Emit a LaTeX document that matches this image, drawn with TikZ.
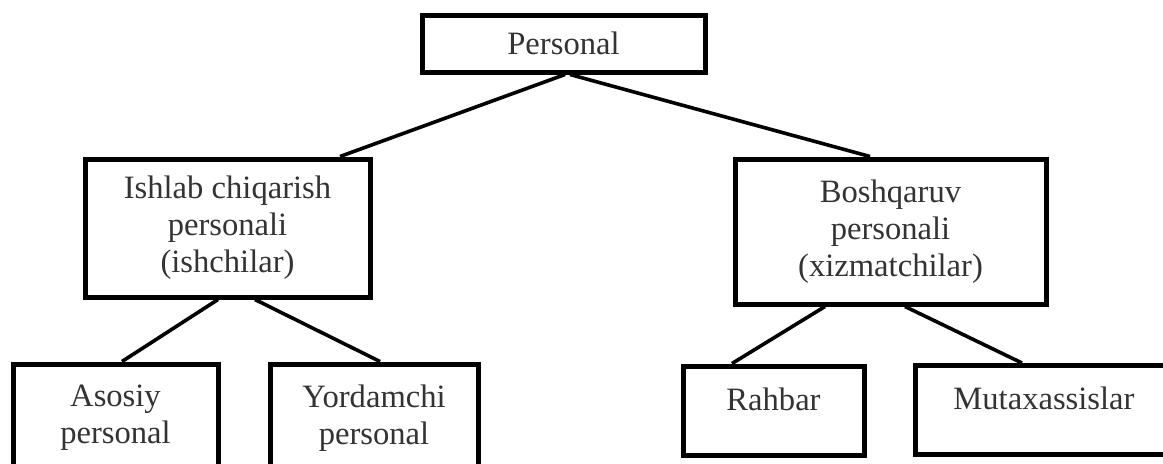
\documentclass[tikz,border=0pt]{standalone}
\usepackage{fontspec}
\setmainfont{Liberation Serif}
\usepackage{tikz}

\begin{document}
\begin{tikzpicture}[x=0.5pt,y=-0.5pt]
		\useasboundingbox (0,0) rectangle (1163,463);
		\tikzset{mybox/.style={draw=black,line width=2.5pt,align=center,text=black!80,font=\fontsize{16.3}{18.5}\selectfont}} %boxes
		\tikzset{myline/.style={black,line width=1.8pt}}
		\node[mybox,minimum width=141.5pt,minimum height=28.5pt] (top) at (563.5,43.5) {Personal}; %level 1
		\node[mybox,minimum width=142.5pt,minimum height=69pt] (ishlab) at (227.5,228) {Ishlab chiqarish\\personali\\(ishchilar)}; %level 2
		\node[mybox,minimum width=155.5pt,minimum height=72.5pt] (boshq) at (890.5,231.5) {Boshqaruv\\personali\\(xizmatchilar)};
		\node[mybox,minimum width=102.5pt,minimum height=54pt] (asosiy) at (115.5,418) {Asosiy\\personal}; %level 3
		\node[mybox,minimum width=104pt,minimum height=54pt] (yordam) at (374,418) {Yordamchi\\personal};
		\node[mybox,minimum width=90.5pt,text height=22pt,text depth=22.5pt,inner ysep=0pt] (rahbar) at (773.5,410.5) {Rahbar};
		\node[mybox,minimum width=129pt,text height=22pt,text depth=22.5pt,inner ysep=0pt] (mutax) at (1044,410) {Mutaxassislar};
		\draw[myline] ([xshift=0.75pt]top.south) -- ([xshift=56.25pt]ishlab.north); %connectors
		\draw[myline] ([xshift=3.25pt]top.south) -- ([xshift=-10.25pt]boshq.north);
		\draw[myline] ([xshift=-4.75pt]ishlab.south) -- ([xshift=3.25pt]asosiy.north);
		\draw[myline] ([xshift=13.75pt]ishlab.south) -- ([xshift=3pt]yordam.north);
		\draw[myline] ([xshift=-32.75pt]boshq.south) -- ([xshift=-20.75pt]rahbar.north);
		\draw[myline] ([xshift=7.25pt]boshq.south) -- ([xshift=-11pt]mutax.north);
	\end{tikzpicture}
\end{document}
